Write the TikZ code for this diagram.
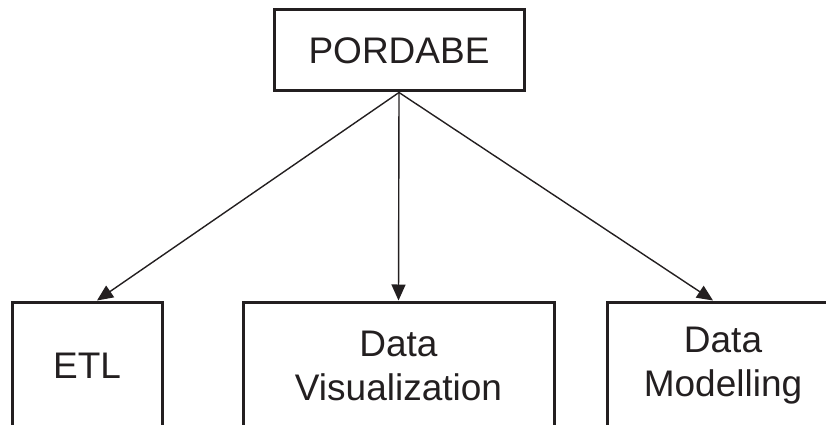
\documentclass[tikz,border=0pt]{standalone}
\usepackage{fontspec}
\setmainfont{Liberation Sans}
\usetikzlibrary{arrows.meta}
\definecolor{ink}{HTML}{231F20}
\begin{document}
\begin{tikzpicture}[x=1pt,y=-1pt,
  box/.style={draw=ink, line width=3pt, rectangle, inner sep=0pt, align=center,
    text=ink, font=\fontsize{37}{44}\selectfont},
  link/.style={draw=ink, line width=1.4pt, -{Triangle[length=16pt,width=14pt]}}]
\useasboundingbox (0,0) rectangle (826,425);
\node[box, minimum width=250pt, minimum height=81pt] (top) at (399,50.5) {PORDABE};
\node[box, minimum width=150pt, minimum height=128pt] (etl) at (87,366) {ETL};
\node[box, minimum width=311pt, minimum height=128pt] (dv) at (398.5,366) {Data\\Visualization};
\node[box, minimum width=232pt, minimum height=128pt] (dm) at (723,366) {Data\\Modelling};
\draw[link] (top.south) -- ([xshift=10pt]etl.north);
\draw[link] (top.south) -- (dv.north);
\draw[link] (top.south) -- ([xshift=-10pt]dm.north);
\end{tikzpicture}
\end{document}
